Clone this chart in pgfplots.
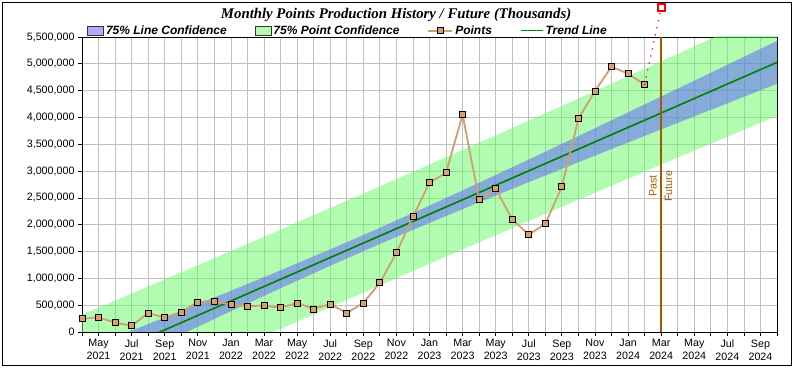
\documentclass[border=0pt]{standalone}
\usepackage{fontspec}
\setmainfont{Liberation Sans}
\newfontfamily\titlefont{Liberation Serif}
\usepackage{pgfplots}
\pgfplotsset{compat=1.18}
\definecolor{gband}{RGB}{100,250,100}
\definecolor{bband}{RGB}{95,90,255}
\definecolor{ptline}{RGB}{210,158,108}
\definecolor{ptfill}{RGB}{218,160,108}
\definecolor{trendc}{RGB}{0,128,0}
\definecolor{pastc}{RGB}{160,90,0}
\definecolor{gridc}{RGB}{192,192,192}
\pgfplotsset{
  common/.style={
    at={(82pt,37pt)}, anchor=south west,
    scale only axis, width=695pt, height=295pt,
    xmin=0, xmax=42, ymin=0, ymax=5500000,
  }
}
\begin{document}
\begin{tikzpicture}
\useasboundingbox (0,0) rectangle (794pt,369pt);
\draw[black, line width=0.8pt] (2pt,3.3pt) rectangle (791.3pt,367pt);
\begin{axis}[common,
  axis line style={black, line width=0.8pt},
  tick pos=left, tick align=outside,
  major tick length=4pt, minor tick length=4pt,
  tick style={black, line width=0.8pt},
  xtick={1,3,...,41},
  minor xtick={0,2,...,42},
  xticklabels={{May\\2021},{Jul\\2021},{Sep\\2021},{Nov\\2021},{Jan\\2022},{Mar\\2022},{May\\2022},{Jul\\2022},{Sep\\2022},{Nov\\2022},{Jan\\2023},{Mar\\2023},{May\\2023},{Jul\\2023},{Sep\\2023},{Nov\\2023},{Jan\\2024},{Mar\\2024},{May\\2024},{Jul\\2024},{Sep\\2024}},
  xticklabel style={align=center, font=\fontsize{10.7}{13}\selectfont},
  ytick={0,500000,1000000,1500000,2000000,2500000,3000000,3500000,4000000,4500000,5000000,5500000},
  scaled y ticks=false,
  yticklabel style={font=\fontsize{10.7}{13}\selectfont, /pgf/number format/fixed, /pgf/number format/precision=0, /pgf/number format/1000 sep={,}, /pgf/number format/assume math mode=true},
  grid=both,
  major grid style={gridc, line width=0.8pt},
  minor grid style={gridc, line width=0.8pt},
  title={Monthly Points Production History / Future (Thousands)},
  title style={font=\titlefont\bfseries\itshape\fontsize{14.8}{17}\selectfont, at={(0.452,1)}, anchor=center, yshift=16pt},
  legend columns=4,
  legend style={at={(0,1)}, anchor=south west, xshift=2pt, yshift=-3pt, draw=none, fill=none,
    font=\bfseries\itshape\fontsize{12}{14}\selectfont,
    /tikz/every even column/.append style={column sep=26pt}},
]
\addlegendimage{legend image code/.code={\draw[fill=bband, fill opacity=0.5, draw=black!80, line width=0.8pt] (0pt,-4.5pt) rectangle (16pt,4.5pt);}}
\addlegendentry{75\% Line Confidence}
\addlegendimage{legend image code/.code={\draw[fill=gband, fill opacity=0.5, draw=black!80, line width=0.8pt] (0pt,-4.5pt) rectangle (16pt,4.5pt);}}
\addlegendentry{75\% Point Confidence}
\addlegendimage{legend image code/.code={\draw[ptline, line width=1.8pt] (0pt,0pt) -- (24pt,0pt); \draw[fill=ptfill, draw=black, line width=0.8pt] (9pt,-3pt) rectangle (15pt,3pt);}}
\addlegendentry{Points}
\addlegendimage{legend image code/.code={\draw[trendc, line width=1.6pt] (0pt,0pt) -- (22pt,0pt);}}
\addlegendentry{Trend Line}

% 75% point confidence band
\addplot[forget plot, draw=none, fill=gband, fill opacity=0.5] coordinates {
(0,323900) (3,717000) (6,1112200) (9,1509500) (12,1909000) (15,2310800) (18,2714800) (21,3121100) (24,3529600) (27,3940400) (30,4353300) (33,4768300) (36,5185400) (39,5604400) (42,6025400)
(42,4028600) (39,3640800) (36,3251000) (33,2859300) (30,2465500) (27,2069600) (24,1671600) (21,1271300) (18,868800) (15,464000) (12,57000) (9,-352300) (6,-763800) (3,-1177400) (0,-1593100)
};
% 75% line confidence band
\addplot[forget plot, draw=none, fill=bband, fill opacity=0.5] coordinates {
(0,-341400) (3,25800) (6,395600) (9,769700) (12,1150100) (15,1540100) (18,1942300) (21,2357300) (24,2782800) (27,3215800) (30,3653500) (33,4094400) (36,4537300) (39,4981600) (42,5426800)
(42,4627200) (39,4263600) (36,3899100) (33,3533200) (30,3165300) (27,2794200) (24,2418400) (21,2035100) (18,1641300) (15,1234700) (12,815900) (9,387500) (6,-47200) (3,-486200) (0,-927800)
};
% trend line
\addplot[forget plot, trendc, line width=1.6pt] coordinates {(0,-634600) (42,5027000)};
% past / future divider
\addplot[forget plot, pastc, line width=2.2pt] coordinates {(35,0) (35,5500000)};
% points
\addplot[forget plot, ptline, line width=1.8pt, mark=square*, mark size=3pt,
  mark options={fill=ptfill, draw=black, line width=0.8pt}] coordinates {
(0,245000) (1,274000) (2,174000) (3,118000) (4,354000) (5,267000) (6,373000) (7,559000) (8,578000) (9,510000) (10,485000) (11,490000) (12,453000) (13,541000) (14,429000) (15,522000) (16,354000) (17,541000) (18,916000) (19,1478000) (20,2149000) (21,2783000) (22,2970000) (23,4051000) (24,2466000) (25,2671000) (26,2100000) (27,1814000) (28,2019000) (29,2709000) (30,3977000) (31,4493000) (32,4946000) (33,4816000) (34,4611000)
};
\node[rotate=90, text=pastc, font=\fontsize{10.7}{13}\selectfont] at (axis cs:34.5,2720000) {Past};
\node[rotate=90, text=pastc, font=\fontsize{10.7}{13}\selectfont] at (axis cs:35.45,2720000) {Future};
\end{axis}
\begin{axis}[common, hide axis, clip=false]
\addplot[red, line width=1.2pt, dash pattern=on 1.2pt off 6pt, mark=square, mark size=3.5pt, mark indices={2},
  mark options={solid, draw=red, fill=white, line width=1.8pt}] coordinates {(34,4611000) (35,6053000)};
\end{axis}
\end{tikzpicture}
\end{document}
